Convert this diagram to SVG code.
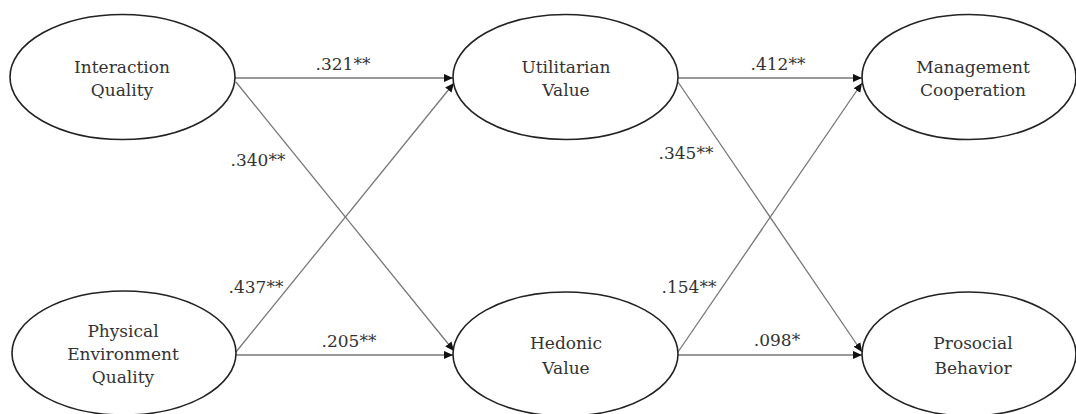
<svg xmlns="http://www.w3.org/2000/svg" width="1076" height="414" viewBox="0 0 1076 414">
<defs>
<marker id="ah" viewBox="0 0 10 10" refX="10" refY="5" markerWidth="9" markerHeight="9" markerUnits="userSpaceOnUse" orient="auto">
<path d="M0,0.5 L10,5 L0,9.5 z" fill="#111"/>
</marker>
<style>
.n ellipse{fill:#fff;stroke:#222;stroke-width:1.6}
#connectors line{stroke:#777;stroke-width:1.3;fill:none;marker-end:url(#ah)}
</style>
</defs>
<rect width="1076" height="414" fill="#fff"/>
<g font-family="'DejaVu Serif', serif" font-size="17" fill="#333" text-anchor="middle">
<g id="connectors">
<line x1="235" y1="78" x2="453" y2="78"/>
<line x1="236" y1="82" x2="454" y2="351"/>
<line x1="236" y1="352" x2="454" y2="83"/>
<line x1="236" y1="355" x2="453" y2="355"/>
<line x1="678" y1="78" x2="862" y2="78"/>
<line x1="678" y1="82" x2="862" y2="352"/>
<line x1="678" y1="352" x2="862" y2="83"/>
<line x1="678" y1="355" x2="862" y2="355"/>
<text x="343" y="70">.321**</text>
<text x="258" y="166">.340**</text>
<text x="256" y="293">.437**</text>
<text x="349" y="347">.205**</text>
<text x="778" y="70">.412**</text>
<text x="686" y="159">.345**</text>
<text x="689" y="293">.154**</text>
<text x="777" y="346">.098*</text>
</g>
<g id="interaction" class="n"><ellipse cx="122.5" cy="77" rx="112.5" ry="62.5"/><text x="122" y="73">Interaction</text><text x="122" y="96">Quality</text></g>
<g id="physical" class="n"><ellipse cx="124" cy="353" rx="112" ry="62"/><text x="123" y="337">Physical</text><text x="123" y="360">Environment</text><text x="123" y="383">Quality</text></g>
<g id="utilitarian" class="n"><ellipse cx="565.5" cy="77" rx="112.5" ry="62.5"/><text x="566" y="73">Utilitarian</text><text x="566" y="96">Value</text></g>
<g id="hedonic" class="n"><ellipse cx="565.5" cy="354" rx="112.5" ry="62"/><text x="566" y="349">Hedonic</text><text x="566" y="374">Value</text></g>
<g id="management" class="n"><ellipse cx="969" cy="77" rx="107" ry="62.5"/><text x="973" y="73">Management</text><text x="973" y="96">Cooperation</text></g>
<g id="prosocial" class="n"><ellipse cx="969" cy="354" rx="107" ry="62"/><text x="973" y="349">Prosocial</text><text x="973" y="374">Behavior</text></g>
</g>
</svg>
